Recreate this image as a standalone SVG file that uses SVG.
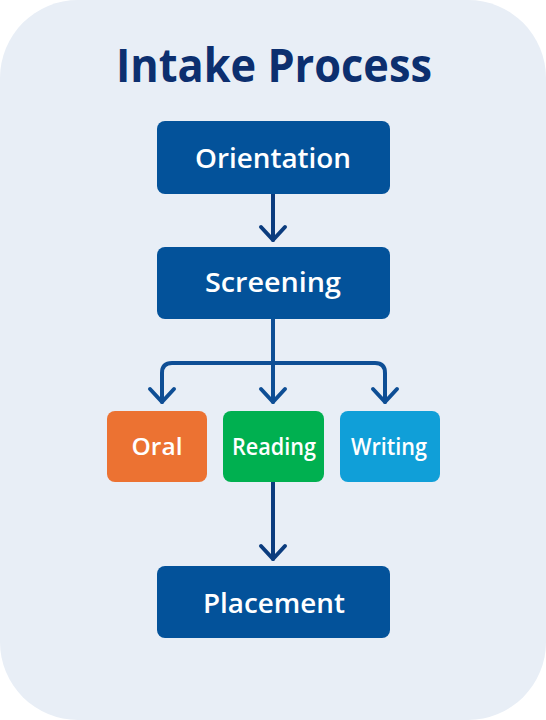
<svg xmlns="http://www.w3.org/2000/svg" width="546" height="720" viewBox="0 0 546 720">
<defs>
<style>
.box{stroke:none}
.lbl{font-family:"Open Sans","Liberation Sans",Arial,sans-serif;font-weight:600;fill:#ffffff;text-anchor:middle}
.big{font-size:27px}
.small{font-size:24px}
.con{fill:none;stroke:#0B3C7E;stroke-width:4;stroke-linecap:round;stroke-linejoin:round}
.br{stroke:#0E4E95}
</style>
</defs>
<rect x="0" y="0" width="546" height="720" fill="#ffffff"/>
<rect x="0" y="0" width="546" height="720" rx="78" ry="78" fill="#E8EEF6"/>
<text x="274" y="82" font-family="Open Sans,Liberation Sans,Arial,sans-serif" font-weight="bold" font-size="46" fill="#0C2F6F" text-anchor="middle" textLength="316" lengthAdjust="spacingAndGlyphs">Intake Process</text>
<g id="connectors">
<path class="con" d="M273 194 V240"/>
<path class="con" d="M261 227 L273 240 L285 227"/>
<path class="con br" d="M273 319 V402"/>
<path class="con br" d="M162 402 V373 Q162 363 172 363 H375 Q385 363 385 373 V402"/>
<path class="con br" d="M150 389 L162 402 L174 389"/>
<path class="con br" d="M261 389 L273 402 L285 389"/>
<path class="con br" d="M373 389 L385 402 L397 389"/>
<path class="con" d="M273 482 V559"/>
<path class="con" d="M261 546 L273 559 L285 546"/>
</g>
<g id="orientation">
<rect class="box" x="157" y="121" width="233" height="73" rx="8" fill="#03529A"/>
<text class="lbl big" x="273" y="168" textLength="156" lengthAdjust="spacingAndGlyphs">Orientation</text>
</g>
<g id="screening">
<rect class="box" x="157" y="247" width="233" height="72" rx="8" fill="#03529A"/>
<text class="lbl big" x="273" y="292" textLength="136" lengthAdjust="spacingAndGlyphs">Screening</text>
</g>
<g id="oral">
<rect class="box" x="107" y="411" width="100" height="71" rx="8" fill="#EC7232"/>
<text class="lbl small" x="157" y="455" textLength="51" lengthAdjust="spacingAndGlyphs">Oral</text>
</g>
<g id="reading">
<rect class="box" x="223" y="411" width="101" height="71" rx="8" fill="#00B050"/>
<text class="lbl small" x="274" y="455" textLength="84" lengthAdjust="spacingAndGlyphs">Reading</text>
</g>
<g id="writing">
<rect class="box" x="340" y="411" width="100" height="71" rx="8" fill="#109FD8"/>
<text class="lbl small" x="389" y="455" textLength="76" lengthAdjust="spacingAndGlyphs">Writing</text>
</g>
<g id="placement">
<rect class="box" x="157" y="566" width="233" height="72" rx="8" fill="#03529A"/>
<text class="lbl big" x="274" y="613" textLength="142" lengthAdjust="spacingAndGlyphs">Placement</text>
</g>
</svg>
